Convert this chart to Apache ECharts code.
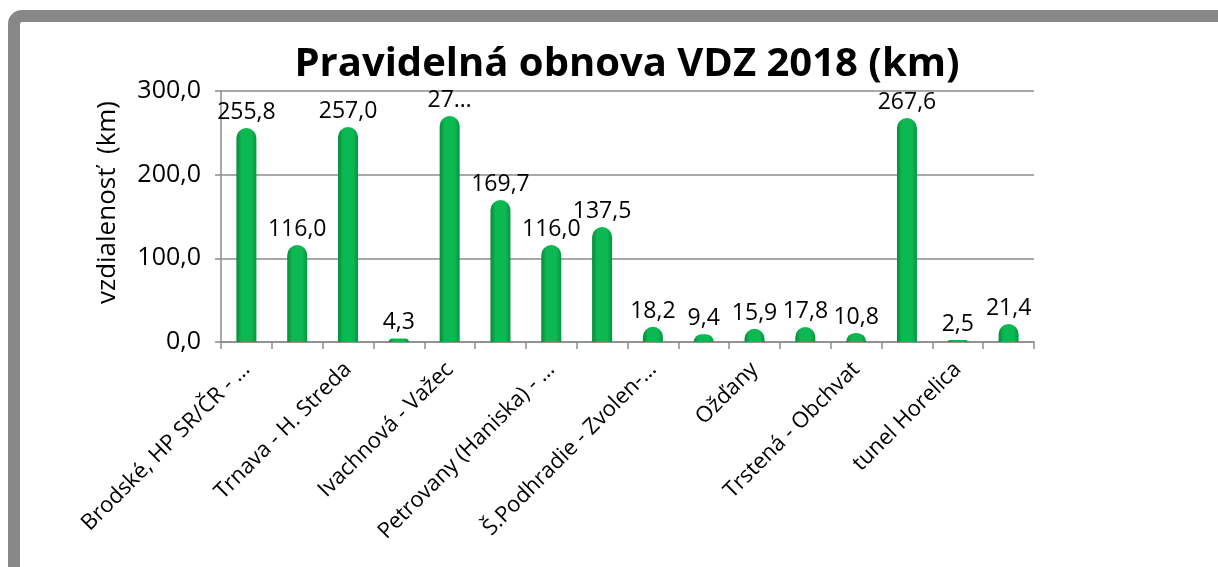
<!DOCTYPE html>
<html>
<head>
<meta charset="utf-8">
<script src="https://cdn.jsdelivr.net/npm/echarts@6/dist/echarts.min.js"></script>
<style>
	html, body { margin: 0; padding: 0; background: #fff; }
	#chart { width: 1218px; height: 567px; }
</style>
</head>
<body>
<div id="chart"></div>
<script>
// categories (every second name is not shown on the axis)
const categories = [
	'Brodské, HP SR/ČR - …', '',
	'Trnava - H. Streda', '',
	'Ivachnová - Važec', '',
	'Petrovany (Haniska) - …', '',
	'Š.Podhradie - Zvolen-…', '',
	'Ožďany', '',
	'Trstená - Obchvat', '',
	'tunel Horelica', ''
]
const lengths = [255.8, 116.0, 257.0, 4.3, 270.0, 169.7, 116.0, 137.5, 18.2, 9.4, 15.9, 17.8, 10.8, 267.6, 2.5, 21.4]
// labels that were cut off in the original
const cutLabels = { 4: '27…' }
const yTicks = [0, 100, 200, 300]

const fmt = (v) => v.toFixed(1).replace('.', ',')
const font = '"Open Sans", "Noto Sans", sans-serif'

const chart = echarts.init(document.getElementById('chart'))
chart.setOption({
	animation: false,
	backgroundColor: '#fff',
	title: {
		text: 'Pravidelná obnova VDZ 2018 (km)',
		left: 622,
		textAlign: 'center',
		top: 40,
		textStyle: { fontFamily: font, fontSize: 40, fontWeight: 'bold', color: '#000' }
	},
	graphic: [{
		type: 'rect',
		shape: { x: 14, y: 16, width: 1400, height: 800, r: 8 },
		style: { fill: 'none', stroke: '#878787', lineWidth: 12 },
		silent: true
	}],
	grid: { left: 221, right: 184, top: 91, bottom: 225 },
	xAxis: {
		type: 'category',
		data: categories,
		axisLine: { lineStyle: { color: '#8c8c8c', width: 1.5 } },
		axisTick: { show: true, alignWithLabel: false, interval: 0, length: 7, lineStyle: { color: '#8c8c8c', width: 1.5 } },
		axisLabel: {
			interval: 0,
			rotate: 45,
			margin: 24,
			fontFamily: font,
			fontSize: 22,
			color: '#000'
		}
	},
	yAxis: {
		type: 'value',
		min: yTicks[0],
		max: yTicks[yTicks.length - 1],
		interval: 100,
		name: 'vzdialenosť  (km)',
		nameLocation: 'middle',
		nameRotate: 90,
		nameGap: 100,
		nameTextStyle: { fontFamily: font, fontSize: 26, color: '#000', padding: [0, 0, 0, 28] },
		axisLine: { show: true, lineStyle: { color: '#8c8c8c', width: 1.5 } },
		axisTick: { show: true, inside: false, length: 6, lineStyle: { color: '#8c8c8c', width: 1.5 } },
		splitLine: { lineStyle: { color: '#8c8c8c', width: 1.5 } },
		axisLabel: {
			formatter: (v) => fmt(v),
			margin: 20,
			fontFamily: font,
			fontSize: 25,
			color: '#000'
		}
	},
	series: [{
		type: 'bar',
		data: lengths,
		barWidth: 20,
		itemStyle: {
			borderRadius: [10, 10, 0, 0],
			color: new echarts.graphic.LinearGradient(0, 0, 1, 0, [
				{ offset: 0, color: '#068a38' },
				{ offset: 0.25, color: '#0bb852' },
				{ offset: 0.75, color: '#0bb852' },
				{ offset: 1, color: '#079540' }
			])
		},
		label: {
			show: true,
			position: 'top',
			distance: 4,
			fontFamily: font,
			fontSize: 23,
			color: '#000',
			formatter: (p) => cutLabels[p.dataIndex] || fmt(p.value)
		}
	}]
})
</script>
</body>
</html>
